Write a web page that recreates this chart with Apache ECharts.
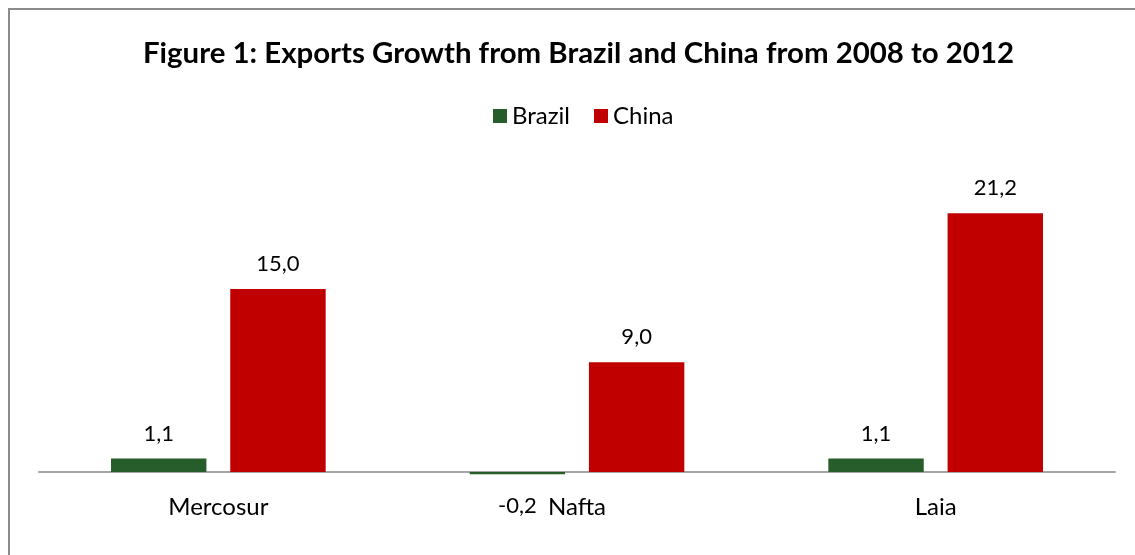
<!DOCTYPE html>
<html>
<head>
<meta charset="utf-8">
<script src="https://cdn.jsdelivr.net/npm/echarts@6/dist/echarts.min.js"></script>
<style>html,body{margin:0;padding:0;background:#fff;}#c{width:1135px;height:555px;}</style>
</head>
<body>
<div id="c"></div>
<script>
const categories = ['Mercosur', 'Nafta', 'Laia'];
const brazil = [1.1, -0.2, 1.1];
const china = [15.0, 9.0, 21.2];
const seriesNames = ['Brazil', 'China'];

const FONT = 'Lato';
const fmt = p => p.value.toFixed(1).replace('.', ',');
function toData(arr) {
  return arr.map(v => v < 0 ? { value: v, label: { position: 'bottom', distance: 21 } } : v);
}

const chart = echarts.init(document.getElementById('c'));
chart.setOption({
  animation: false,
  textStyle: { fontFamily: FONT },
  graphic: [{
    type: 'rect', shape: { x: 9, y: 9, width: 1140, height: 560 },
    style: { fill: 'none', stroke: '#8c8c8c', lineWidth: 2 }, silent: true, z: -1
  }],
  title: {
    text: 'Figure 1: Exports Growth from Brazil and China from 2008 to 2012',
    left: 138, top: 34,
    textStyle: { fontFamily: FONT, fontWeight: 'bold', fontSize: 29.4, color: '#000' }
  },
  legend: {
    data: seriesNames, top: 99, left: 488,
    itemWidth: 14, itemHeight: 14, itemGap: 24,
    icon: 'rect',
    textStyle: { fontFamily: FONT, fontSize: 24, color: '#000', padding: [0, 0, 0, 0] }
  },
  grid: { left: 39, right: 20, top: 167, bottom: 77, containLabel: false, outerBoundsMode: 'none' },
  xAxis: {
    type: 'category', data: categories,
    axisLine: { onZero: true, lineStyle: { color: '#a6a6a6', width: 2 } },
    axisTick: { show: false },
    axisLabel: { fontFamily: FONT, fontSize: 24, color: '#000', margin: 17 }
  },
  yAxis: {
    type: 'value', min: -0.5, max: 25,
    show: false, splitLine: { show: false }
  },
  series: [
    {
      name: seriesNames[0], type: 'bar', data: toData(brazil),
      barWidth: '26.6%', barGap: '25%',
      itemStyle: { color: '#275d2b' },
      label: { show: true, position: 'top', distance: 14, formatter: fmt, fontFamily: FONT, fontSize: 22, color: '#000' }
    },
    {
      name: seriesNames[1], type: 'bar', data: toData(china),
      barWidth: '26.6%',
      itemStyle: { color: '#c00000' },
      label: { show: true, position: 'top', distance: 14, formatter: fmt, fontFamily: FONT, fontSize: 22, color: '#000' }
    }
  ]
});
</script>
</body>
</html>
